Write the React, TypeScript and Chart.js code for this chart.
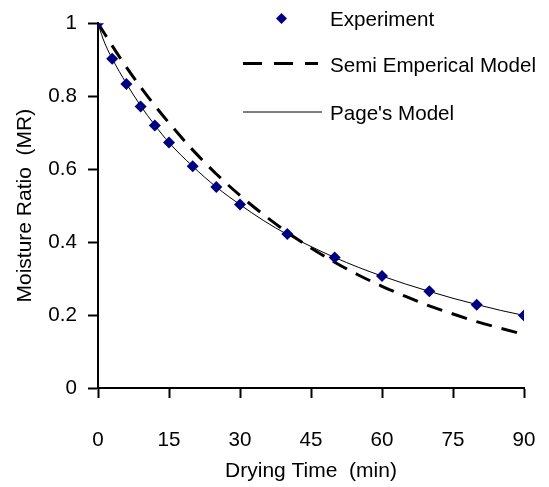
import React, { useEffect, useRef } from "react";
import { Chart, registerables } from "chart.js";

Chart.register(...registerables);

const expTime = [0, 3, 6, 9, 12, 15, 20, 25, 30, 40, 50, 60, 70, 80, 90];
const expMR = [1.0, 0.903, 0.834, 0.772, 0.72, 0.673, 0.608, 0.551, 0.503, 0.422, 0.358, 0.307, 0.265, 0.228, 0.199];

const semiTime = [0, 5, 10, 15, 20, 25, 30, 35, 40, 45, 50, 55, 60, 65, 70, 75, 80, 85, 90];
const semiMR = [1.0, 0.899, 0.808, 0.727, 0.653, 0.587, 0.528, 0.475, 0.427, 0.384, 0.345, 0.31, 0.279, 0.251, 0.225, 0.203, 0.182, 0.164, 0.147];

const pageTime = [0, 1, 2, 3, 6, 9, 12, 15, 20, 25, 30, 35, 40, 45, 50, 55, 60, 65, 70, 75, 80, 85, 90];
const pageMR = [1.0, 0.96, 0.929, 0.903, 0.835, 0.774, 0.721, 0.673, 0.608, 0.551, 0.503, 0.459, 0.421, 0.388, 0.358, 0.331, 0.307, 0.285, 0.265, 0.246, 0.229, 0.213, 0.199];

const legendLabels = ["Experiment", "Semi Emperical Model", "Page's Model"];
const xTitle = "Drying Time  (min)";
const yTitle = "Moisture Ratio  (MR)";

const FONT = "'Liberation Sans', Arial, sans-serif";
const FS = 20.6;
const TFS = 21;

const legendPlugin = {
  id: "customLegend",
  afterDraw(chart: any) {
    const ctx = chart.ctx;
    ctx.save();
    ctx.fillStyle = "#000080";
    const dx = 281.5, dy = 18.5, r = 5.5;
    ctx.beginPath();
    ctx.moveTo(dx, dy - r);
    ctx.lineTo(dx + r, dy);
    ctx.lineTo(dx, dy + r);
    ctx.lineTo(dx - r, dy);
    ctx.closePath();
    ctx.fill();
    ctx.strokeStyle = "#000";
    ctx.lineWidth = 3;
    ctx.setLineDash([19, 12]);
    ctx.beginPath();
    ctx.moveTo(243, 63.5);
    ctx.lineTo(318, 63.5);
    ctx.stroke();
    ctx.setLineDash([]);
    ctx.lineWidth = 1;
    ctx.beginPath();
    ctx.moveTo(243, 112);
    ctx.lineTo(322, 112);
    ctx.stroke();
    ctx.fillStyle = "#000";
    ctx.font = `${FS}px ${FONT}`;
    ctx.textBaseline = "middle";
    ctx.textAlign = "left";
    ctx.fillText(legendLabels[0], 330, 20);
    ctx.fillText(legendLabels[1], 330, 66);
    ctx.fillText(legendLabels[2], 330, 114);
    ctx.restore();
  },
};

const fmt = (v: any) => String(+Number(v).toFixed(1));

export default function App() {
  const ref = useRef<HTMLCanvasElement>(null);
  useEffect(() => {
    if (!ref.current) return;
    const chart = new Chart(ref.current, {
      type: "scatter",
      data: {
        datasets: [
          {
            label: legendLabels[0],
            data: expTime.map((t, i) => ({ x: t, y: expMR[i] })),
            pointStyle: "rectRot",
            pointRadius: 6,
            backgroundColor: "#000080",
            borderColor: "#000080",
            borderWidth: 0,
            showLine: false,
            order: 0,
          },
          {
            label: legendLabels[1],
            data: semiTime.map((t, i) => ({ x: t, y: semiMR[i] })),
            showLine: true,
            pointRadius: 0,
            borderColor: "#000",
            borderWidth: 3,
            borderDash: [16, 10],
            cubicInterpolationMode: "monotone",
            order: 2,
          },
          {
            label: legendLabels[2],
            data: pageTime.map((t, i) => ({ x: t, y: pageMR[i] })),
            showLine: true,
            pointRadius: 0,
            borderColor: "#000",
            borderWidth: 1,
            cubicInterpolationMode: "monotone",
            order: 1,
          },
        ],
      },
      options: {
        animation: false,
        responsive: false,
        layout: { padding: { top: 20, right: 25, left: 0, bottom: 0 } },
        plugins: { legend: { display: false }, tooltip: { enabled: false } },
        scales: {
          x: {
            type: "linear",
            min: 0,
            max: 90,
            afterFit: (s: any) => { s.height = 99; s.paddingRight = 0; s.paddingLeft = 0; },
            ticks: { stepSize: 15, color: "#000", font: { family: FONT, size: FS }, padding: 30, maxRotation: 0, callback: fmt },
            grid: { drawOnChartArea: false, drawTicks: true, tickLength: 10, tickColor: "#000", tickWidth: 2 },
            border: { display: true, color: "#000", width: 2 },
            title: { display: true, text: xTitle, color: "#000", font: { family: FONT, size: TFS }, padding: { top: 0, bottom: 3 } },
          },
          y: {
            type: "linear",
            min: 0,
            max: 1,
            afterFit: (s: any) => { s.width = 98; },
            ticks: { stepSize: 0.2, color: "#000", font: { family: FONT, size: FS }, padding: 11, callback: fmt },
            grid: { drawOnChartArea: false, drawTicks: true, tickLength: 10, tickColor: "#000", tickWidth: 2 },
            border: { display: true, color: "#000", width: 2 },
            title: { display: true, text: yTitle, color: "#000", font: { family: FONT, size: TFS }, padding: { top: 13, bottom: 0 } },
          },
        },
      },
      plugins: [legendPlugin],
    } as any);
    return () => chart.destroy();
  }, []);
  return (
    <div style={{ position: "absolute", left: 0, top: 0, width: 549, height: 487, background: "#fff" }}>
      <canvas ref={ref} width={549} height={487} />
    </div>
  );
}
